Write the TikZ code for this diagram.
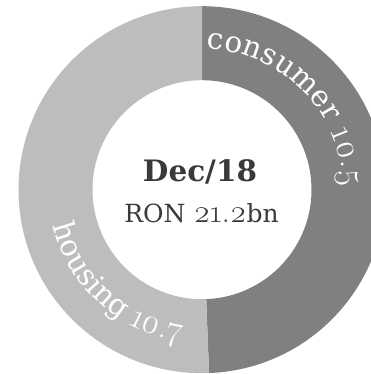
\documentclass[tikz,border=0pt]{standalone}
\usepackage{fontspec}
\setmainfont{DejaVu Serif}
% old-style figures
\newfontfamily\osfig{Latin Modern Roman}[Numbers=OldStyle]
\usetikzlibrary{decorations.text,calc}
\definecolor{ringlight}{HTML}{BDBDBD}
\definecolor{ringdark}{HTML}{808080}
\definecolor{centertext}{HTML}{3A3A3A}
\newcommand\lblfont{\color{white}\fontsize{29.5}{29.5}\selectfont}
\newcommand\lblfig{\color{white}\osfig\fontsize{35}{35}\selectfont}
\tikzset{
  ringlabel/.style={decorate, decoration={text along path, text align=center, text={#1}}},
  centerlabel/.style={text=centertext, anchor=base, inner sep=0pt}
}
\begin{document}
\begin{tikzpicture}[x=1pt,y=1pt]
  \useasboundingbox (0,0) rectangle (371,374);
  \coordinate (c) at (202,184.3);
  \def\Rout{183.5pt}
  \def\Rin{109.5pt}
  \def\cut{-87.8}
  % consumer share (dark), clockwise from the top
  \fill[ringdark] ($(c)+(90:\Rout)$) arc[start angle=90, end angle=\cut, radius=\Rout]
    -- ($(c)+(\cut:\Rin)$) arc[start angle=\cut, end angle=90, radius=\Rin] -- cycle;
  % housing share (light)
  \fill[ringlight] ($(c)+(\cut:\Rout)$) arc[start angle=\cut, end angle=-270, radius=\Rout]
    -- ($(c)+(-270:\Rin)$) arc[start angle=-270, end angle=\cut, radius=\Rin] -- cycle;
  % curved segment labels
  \path[ringlabel={|\lblfont|consumer |\lblfig|10.5}]
    ($(c)+(86:141pt)$) arc[start angle=86, end angle=3, radius=141pt];
  \path[ringlabel={|\lblfont|housing |\lblfig|10.7}]
    ($(c)+(190:153pt)$) arc[start angle=190, end angle=266, radius=153pt];
  % centre caption
  \node[centerlabel, font=\bfseries\fontsize{29.5}{29.5}\selectfont] (title) at (200,192) {Dec/18};
  \node[centerlabel, font=\fontsize{25}{25}\selectfont] (total) at (201.5,151)
    {RON {\osfig\fontsize{32}{32}\selectfont 21.2}bn};
\end{tikzpicture}
\end{document}
